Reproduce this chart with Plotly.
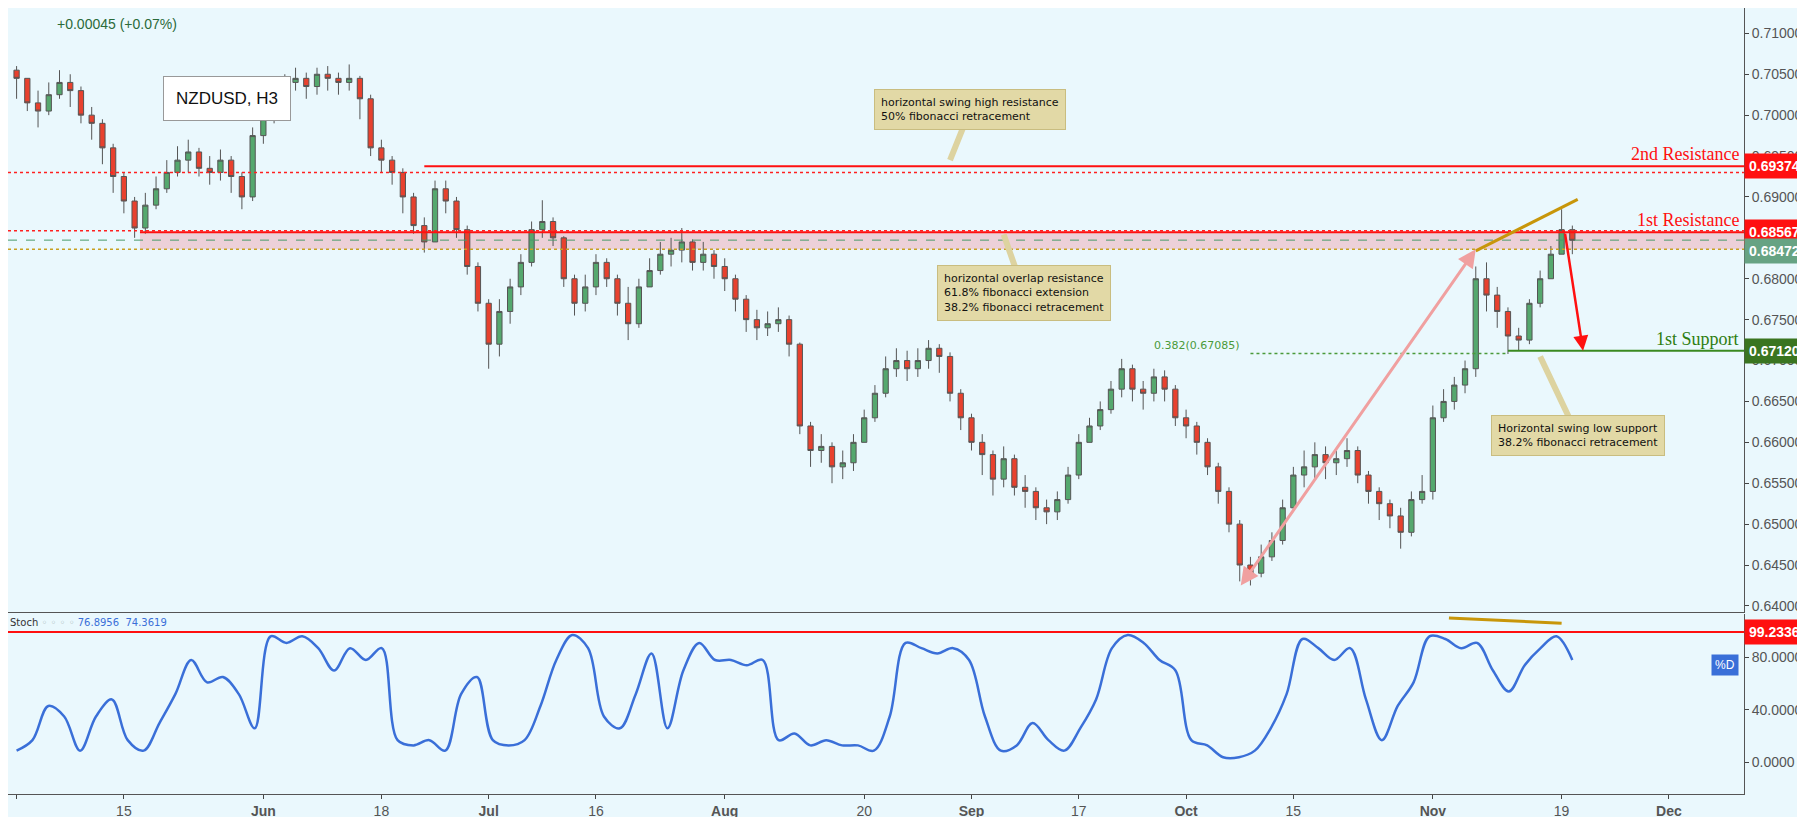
import pandas as pd
import plotly.graph_objects as go
from plotly.subplots import make_subplots

# trading days May 1 - Nov 20 2018 (daily approximation of the H3 chart)
days = pd.bdate_range("2018-05-01", "2018-12-14")

close_may = [.7045, .7015, .7005, .7025, .7040, .7030, .7000, .6990, .6960, .6925, .6895, .6862,
             .6890, .6910, .6930, .6945, .6955, .6935, .6930, .6945, .6925, .6900, .6975]
close_jun = [.7000, .7025, .7040, .7045, .7035, .7050, .7045, .7040, .7045, .7020, .6960, .6945,
             .6930, .6900, .6865, .6845, .6910, .6895, .6860, .6815, .6770]
close_jul = [.6720, .6760, .6790, .6820, .6860, .6870, .6850, .6800, .6770, .6790, .6820, .6800,
             .6770, .6745, .6790, .6810, .6830, .6835, .6845, .6820, .6830, .6815]
close_aug = [.6800, .6775, .6750, .6740, .6745, .6750, .6720, .6620, .6590, .6595, .6570, .6575,
             .6600, .6630, .6660, .6690, .6700, .6690, .6700, .6715, .6705, .6660, .6630]
close_sep = [.6600, .6585, .6555, .6580, .6545, .6540, .6520, .6515, .6530, .6560, .6600, .6620,
             .6640, .6665, .6690, .6665, .6660, .6680, .6665, .6630]
close_oct = [.6620, .6600, .6570, .6540, .6500, .6450, .6440, .6460, .6480, .6520, .6560, .6570,
             .6585, .6575, .6580, .6590, .6560, .6540, .6525, .6510, .6490, .6530, .6540]
close_nov = [.6630, .6650, .6670, .6690, .6800, .6780, .6760, .6730, .6725, .6770, .6800, .6830,
             .6860, .6847]

high_may = [.7060, .7045, .7030, .7040, .7055, .7050, .7035, .7010, .6995, .6965, .6930, .6900,
            .6905, .6925, .6945, .6962, .6970, .6960, .6950, .6958, .6950, .6930, .6985]
high_jun = [.7015, .7035, .7050, .7058, .7052, .7058, .7060, .7052, .7062, .7048, .7025, .6970,
            .6950, .6935, .6905, .6875, .6920, .6920, .6900, .6865, .6820]
high_jul = [.6775, .6775, .6800, .6830, .6870, .6896, .6875, .6852, .6805, .6805, .6830, .6825,
            .6805, .6790, .6800, .6825, .6845, .6850, .6862, .6848, .6845, .6835]
high_aug = [.6825, .6805, .6780, .6762, .6760, .6765, .6755, .6722, .6625, .6610, .6600, .6590,
            .6610, .6640, .6670, .6705, .6715, .6712, .6715, .6725, .6720, .6710, .6665]
high_sep = [.6635, .6610, .6590, .6595, .6585, .6560, .6545, .6530, .6540, .6570, .6610, .6630,
            .6650, .6675, .6702, .6695, .6675, .6690, .6688, .6670]
high_oct = [.6640, .6625, .6605, .6575, .6545, .6505, .6460, .6475, .6490, .6530, .6570, .6590,
            .6600, .6595, .6590, .6605, .6595, .6565, .6545, .6530, .6520, .6540, .6560]
high_nov = [.6645, .6665, .6680, .6700, .6815, .6820, .6790, .6765, .6740, .6775, .6810, .6840,
            .6885, .6865]

low_may = [.7020, .7005, .6985, .7000, .7020, .7010, .6990, .6970, .6940, .6905, .6880, .6850,
           .6855, .6885, .6905, .6925, .6930, .6925, .6915, .6920, .6905, .6885, .6895]
low_jun = [.6965, .6990, .7015, .7030, .7020, .7025, .7030, .7025, .7030, .6995, .6950, .6930,
           .6915, .6880, .6855, .6832, .6845, .6880, .6850, .6805, .6760]
low_jul = [.6690, .6705, .6745, .6780, .6815, .6850, .6840, .6790, .6755, .6760, .6780, .6790,
           .6755, .6725, .6740, .6790, .6805, .6815, .6820, .6810, .6810, .6800]
low_aug = [.6785, .6760, .6735, .6725, .6730, .6735, .6705, .6610, .6570, .6575, .6550, .6555,
           .6565, .6600, .6625, .6655, .6680, .6675, .6680, .6690, .6685, .6650, .6615]
low_sep = [.6590, .6560, .6535, .6545, .6535, .6520, .6505, .6500, .6505, .6525, .6555, .6600,
           .6615, .6635, .6655, .6650, .6640, .6650, .6650, .6620]
low_oct = [.6605, .6585, .6560, .6525, .6490, .6430, .6425, .6435, .6455, .6475, .6515, .6545,
           .6555, .6555, .6560, .6570, .6550, .6525, .6505, .6495, .6470, .6485, .6525]
low_nov = [.6530, .6625, .6640, .6660, .6680, .6760, .6740, .6708, .6712, .6720, .6765, .6800,
           .6830, .6830]

closes = close_may + close_jun + close_jul + close_aug + close_sep + close_oct + close_nov
highs = high_may + high_jun + high_jul + high_aug + high_sep + high_oct + high_nov
lows = low_may + low_jun + low_jul + low_aug + low_sep + low_oct + low_nov
opens = [closes[0] + 0.0010] + closes[:-1]
n = len(closes)
idx = list(range(n))

# stochastic %D (evenly spaced over the data range)
stoch = [9, 17, 43, 35, 9, 35, 48, 17, 9, 30, 52, 78, 61, 65, 52, 26, 96, 91, 96, 87, 70, 87, 78,
         87, 17, 13, 17, 9, 52, 65, 17, 13, 17, 43, 78, 97, 87, 35, 26, 52, 83, 26, 70, 91, 78, 78,
         74, 78, 17, 22, 13, 17, 13, 13, 9, 35, 91, 87, 83, 87, 78, 35, 9, 13, 30, 17, 9, 26, 48,
         87, 97, 91, 78, 70, 17, 13, 4, 4, 9, 26, 52, 94, 87, 78, 87, 48, 17, 43, 61, 96, 94, 87,
         91, 70, 54, 74, 87, 96, 78]
stoch_x = [i * (n - 1) / (len(stoch) - 1) for i in range(len(stoch))]

tick_dates = ["2018-05-01", "2018-05-15", "2018-06-01", "2018-06-18", "2018-07-02", "2018-07-16",
              "2018-08-01", "2018-08-20", "2018-09-03", "2018-09-17", "2018-10-01", "2018-10-15",
              "2018-11-01", "2018-11-19", "2018-12-03"]
tick_text = ["<b>May</b>", "15", "<b>Jun</b>", "18", "<b>Jul</b>", "16", "<b>Aug</b>", "20",
             "<b>Sep</b>", "17", "<b>Oct</b>", "15", "<b>Nov</b>", "19", "<b>Dec</b>"]
tick_vals = [list(days).index(pd.Timestamp(d)) for d in tick_dates]

price_ticks = [0.640, 0.645, 0.650, 0.655, 0.660, 0.665, 0.670, 0.675, 0.680, 0.685,
               0.690, 0.695, 0.700, 0.705, 0.710]

R2, R1, CUR, S1, FIB = 0.69374, 0.68567, 0.68472, 0.67120, 0.67085
BAND_LO = 0.6836

BG = "#eaf8fd"
XR = [-0.8, 161]

fig = make_subplots(rows=2, cols=1, shared_xaxes=True, vertical_spacing=0.003,
                    row_heights=[0.768, 0.229])

fig.add_trace(go.Candlestick(
    x=idx, open=opens, high=highs, low=lows, close=closes,
    increasing=dict(line=dict(color="#555555", width=1), fillcolor="#55a86e"),
    decreasing=dict(line=dict(color="#555555", width=1), fillcolor="#e8412e"),
    whiskerwidth=0, showlegend=False, name="NZDUSD"), row=1, col=1)

fig.add_trace(go.Scatter(x=stoch_x, y=stoch, mode="lines", line=dict(color="#3a6fd8", width=2.5),
                         line_shape="spline", showlegend=False), row=2, col=1)

# horizontal levels
def hline(y, x0, x1, color, width, dash="solid", row="y"):
    fig.add_shape(type="line", xref="x", yref=row, x0=x0, x1=x1, y0=y, y1=y,
                  line=dict(color=color, width=width, dash=dash))

fig.add_shape(type="rect", xref="x", yref="y", x0=11.5, x1=XR[1], y0=BAND_LO, y1=R1,
              fillcolor="rgba(240,160,170,0.45)", line=dict(width=0), layer="below")
hline(0.6930, XR[0], XR[1], "#ff2020", 1.5, "dot")
hline(R2, 38, XR[1], "#ff1010", 2)
hline(R1 + 0.0002, XR[0], XR[1], "#ff2020", 1.5, "dot")
hline(R1, 11.5, XR[1], "#ff1010", 2)
hline(CUR, XR[0], XR[1], "#4a9a6a", 1, "dash")
hline(BAND_LO, XR[0], XR[1], "#c8a020", 1.5, "dot")
hline(FIB, 115, 139, "#4a9a3a", 1.5, "dot")
hline(S1, 139, XR[1], "#3a8a20", 2)
hline(99.2336, XR[0], XR[1], "#ff1010", 2, row="y2")

# trend lines and arrows
fig.add_shape(type="line", xref="x", yref="y", x0=136, y0=0.6834, x1=145.5, y1=0.6897,
              line=dict(color="#c8960a", width=3))
fig.add_shape(type="line", xref="x2", yref="y2", x0=133.5, y0=110, x1=144, y1=106,
              line=dict(color="#c8960a", width=3))
fig.add_annotation(x=136, y=0.6836, ax=114, ay=0.6423, xref="x", yref="y", axref="x", ayref="y",
                   text="", showarrow=True, arrowhead=2, arrowsize=1.2, arrowwidth=3,
                   arrowcolor="#f0a0a0", startarrowhead=2, arrowside="end+start")
fig.add_annotation(x=146, y=0.6712, ax=144.3, ay=0.6857, xref="x", yref="y", axref="x", ayref="y",
                   text="", showarrow=True, arrowhead=2, arrowsize=1.2, arrowwidth=2.5,
                   arrowcolor="#ff1010")

# callout boxes
boxes = [
    (88.9, 0.7007, 87, 0.6945, "horizontal swing high resistance<br>50% fibonacci retracement"),
    (93.9, 0.6783, 92, 0.6854, "horizontal overlap resistance<br>61.8% fibonacci extension<br>38.2% fibonacci retracement"),
    (145.5, 0.6608, 142, 0.6705, "Horizontal swing low support<br>38.2% fibonacci retracement"),
]
for bx, by, tx, ty, txt in boxes:
    fig.add_annotation(x=tx, y=ty, ax=bx, ay=by, xref="x", yref="y", axref="x", ayref="y",
                       text="", showarrow=True, arrowhead=0, arrowwidth=6, arrowcolor="#ddd3a0")
    fig.add_annotation(x=bx, y=by, xref="x", yref="y", text=txt, showarrow=False, align="left",
                       font=dict(family="DejaVu Sans", size=11, color="#111111"),
                       bgcolor="#e2d9a6", bordercolor="#c9bd80", borderwidth=1, borderpad=6)

fig.add_annotation(x=110, y=FIB, xref="x", yref="y", text="0.382(0.67085)", showarrow=False,
                   yanchor="bottom", font=dict(family="DejaVu Sans", size=11, color="#4a9a3a"))

# level labels
for y, txt, col in [(R2, "2nd Resistance", "#ff1010"), (R1, "1st Resistance", "#ff1010"),
                    (S1, "1st Support", "#2e7d10")]:
    fig.add_annotation(x=0.998, y=y, xref="paper", yref="y", text=txt, showarrow=False,
                       xanchor="right", yanchor="bottom",
                       font=dict(family="Liberation Serif", size=18, color=col))

box_font = dict(family="Liberation Sans", size=14, color="white")
for y, txt, col in [(R2, "0.69374", "#ff1010"), (R1, "0.68567", "#ff1010"),
                    (CUR, "0.68472", "#67a383"), (S1, "0.67120", "#3a7520")]:
    fig.add_annotation(x=1.0, y=y - (0.0013 if txt == "0.68472" else 0), xref="paper", yref="y",
                       text="<b>" + txt + "</b>", showarrow=False, xanchor="left",
                       font=box_font, bgcolor=col, borderpad=4)
fig.add_annotation(x=1.0, y=99.2336, xref="paper", yref="y2", text="<b>99.2336</b>",
                   showarrow=False, xanchor="left", font=box_font, bgcolor="#ff1010", borderpad=4)
fig.add_annotation(x=0.997, y=74, xref="paper", yref="y2", text="%D", showarrow=False,
                   xanchor="right", font=dict(family="Liberation Sans", size=12, color="white"),
                   bgcolor="#3a6fd8", borderpad=3)

fig.add_annotation(x=0.089, y=0.913, xref="paper", yref="paper", text="NZDUSD, H3", showarrow=False,
                   font=dict(family="Liberation Sans", size=17, color="#111111"),
                   bgcolor="white", bordercolor="#999999", borderwidth=1, borderpad=12)
fig.add_annotation(x=0.027, y=0.993, xref="paper", yref="paper", text="+0.00045 (+0.07%)",
                   showarrow=False, xanchor="left", yanchor="top",
                   font=dict(family="Liberation Sans", size=14, color="#2a6a3a"))
fig.add_annotation(x=0.0, y=0.228, xref="paper", yref="paper",
                   text="Stoch <span style='color:#9aa'>◦ ◦ ◦ ◦</span> <span style='color:#3a6fd8'>76.8956  74.3619</span>",
                   showarrow=False, xanchor="left", yanchor="top",
                   font=dict(family="DejaVu Sans", size=10, color="#333333"))

axis_font = dict(family="Liberation Sans", size=14, color="#555555")
fig.update_xaxes(range=XR, showgrid=False, zeroline=False, rangeslider_visible=False,
                 showline=True, linecolor="#555555", mirror=False)
fig.update_xaxes(tickmode="array", tickvals=tick_vals, ticktext=tick_text, tickfont=axis_font,
                 ticks="outside", ticklen=4, row=2, col=1)
fig.update_yaxes(side="right", showgrid=False, zeroline=False, showline=True, linecolor="#555555",
                 ticks="outside", ticklen=4, tickfont=axis_font)
fig.update_yaxes(range=[0.6393, 0.7131], tickvals=price_ticks, tickformat=".5f", row=1, col=1)
fig.update_yaxes(range=[-24, 113], tickvals=[0, 40, 80], tickformat=".4f", row=2, col=1)

fig.update_layout(width=1805, height=817, margin=dict(l=0, r=69, t=0, b=31),
                  paper_bgcolor=BG, plot_bgcolor=BG, showlegend=False)

fig.write_html("out.html")
